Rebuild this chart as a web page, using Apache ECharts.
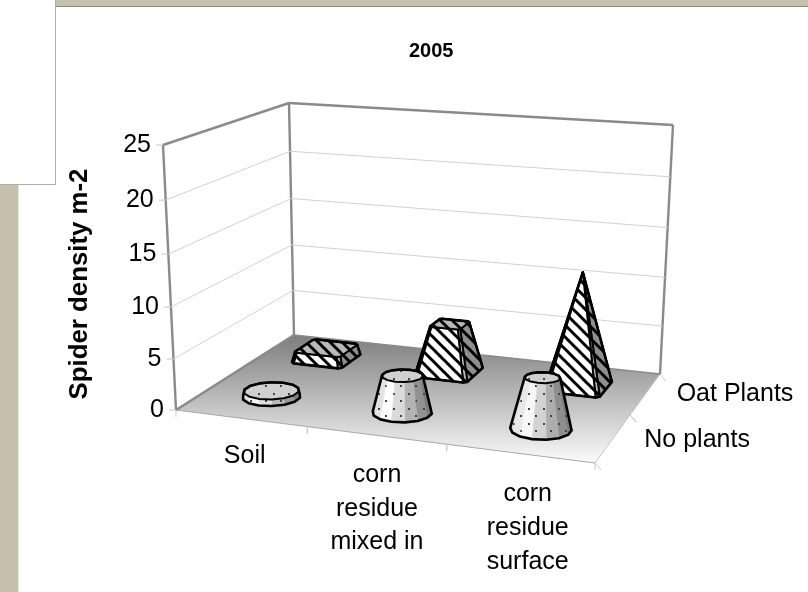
<!DOCTYPE html>
<html><head><meta charset="utf-8">
<style>html,body{margin:0;padding:0;background:#fff}#c{width:808px;height:592px}</style>
<script src="https://cdn.jsdelivr.net/npm/echarts@6/dist/echarts.min.js"></script>
</head><body><div id="c"></div>
<script>
const categories = ['Soil', 'corn\nresidue\nmixed in', 'corn\nresidue\nsurface'];
const depthLabels = ['No plants', 'Oat Plants'];
const noPlants = [0.6, 3.6, 4.9];
const oatPlants = [1.1, 5, 11.5];
const yTicks = [0, 5, 10, 15, 20, 25];
const yTitle = 'Spider density m-2';
const chartTitle = '2005';

const FONT = '"Liberation Sans", Arial, sans-serif';
const GRID = {left: 176, top: 145, width: 419, height: 265};
// floor and ceiling corners of the 3D box on screen: front-left, front-right, back-right, back-left
const FLOOR = [[176, 410], [595, 463], [660, 374], [294, 335]];
const CEIL = [[163, 145], [606, 174], [673, 125], [289, 103]];

function homography(q) {
  const [[x0, y0], [x1, y1], [x2, y2], [x3, y3]] = q;
  const dx1 = x1 - x2, dx2 = x3 - x2, sx = x0 - x1 + x2 - x3;
  const dy1 = y1 - y2, dy2 = y3 - y2, sy = y0 - y1 + y2 - y3;
  const d = dx1 * dy2 - dx2 * dy1;
  const g = (sx * dy2 - dx2 * sy) / d, h = (dx1 * sy - sx * dy1) / d;
  const a = x1 - x0 + g * x1, b = x3 - x0 + h * x3, c = x0;
  const e = y1 - y0 + g * y1, f = y3 - y0 + h * y3, i = y0;
  return (u, v) => {
    const w = g * u + h * v + 1;
    return [(a * u + b * v + c) / w, (e * u + f * v + i) / w];
  };
}
const H0 = homography(FLOOR), H1 = homography(CEIL);
function project(u, v, w) {
  const k = 0.048, t = w * (1 - k) / (1 - k * w);
  const p = H0(u, v), q = H1(u, v);
  return [p[0] + (q[0] - p[0]) * t, p[1] + (q[1] - p[1]) * t];
}

function tile(w, h, draw) {
  const c = document.createElement('canvas');
  c.width = w; c.height = h;
  draw(c.getContext('2d'));
  return {image: c, repeat: 'repeat'};
}
const hatch = tile(12, 12, g => {
  g.strokeStyle = '#000'; g.lineWidth = 3; g.lineCap = 'square';
  for (let o = -12; o <= 12; o += 12) { g.beginPath(); g.moveTo(o - 2, -2); g.lineTo(o + 14, 14); g.stroke(); }
});
const dots = tile(15, 15, g => {
  g.fillStyle = '#444';
  g.fillRect(3, 3, 2, 2); g.fillRect(10, 10, 2, 2);
});

function hull(pts) {
  const s = pts.slice().sort((a, b) => a[0] - b[0] || a[1] - b[1]);
  const cr = (o, a, b) => (a[0] - o[0]) * (b[1] - o[1]) - (a[1] - o[1]) * (b[0] - o[0]);
  const lo = [], up = [];
  for (const p of s) { while (lo.length > 1 && cr(lo[lo.length - 2], lo[lo.length - 1], p) <= 0) lo.pop(); lo.push(p); }
  for (const p of s.slice().reverse()) { while (up.length > 1 && cr(up[up.length - 2], up[up.length - 1], p) <= 0) up.pop(); up.push(p); }
  return lo.slice(0, -1).concat(up.slice(0, -1));
}
const poly = (points, style, z2) => ({type: 'polygon', shape: {points}, style, z2});
const allValues = noPlants.concat(oatPlants);
const peak = Math.max.apply(null, allValues);
const RU = 0.069, RV = 0.105;

function normalised(params, api, cat, val) {
  const cs = params.coordSys, p = api.coord([cat, val]);
  return [(p[0] - cs.x) / cs.width, (cs.y + cs.height - p[1]) / cs.height];
}

function coneItem(params, api) {
  const cat = api.value(0), val = api.value(1);
  const [u, w] = normalised(params, api, cat, val);
  const v = 0.25, n = 14, off = Math.PI / n;
  const ring = (scale, wl) => { const a = [];
    for (let i = 0; i < n; i++) { const th = off + i * 2 * Math.PI / n;
      a.push(project(u + RU * scale * Math.cos(th), v + RV * scale * Math.sin(th), wl)); }
    return a; };
  const base = ring(1, 0), top = ring(1 - val / peak, w);
  const xs = base.map(p => p[0]), minX = Math.min.apply(null, xs), maxX = Math.max.apply(null, xs);
  const order = [];
  for (let i = 0; i < n; i++) order.push(i);
  order.sort((a, b) => Math.sin(off + (b + .5) * 2 * Math.PI / n) - Math.sin(off + (a + .5) * 2 * Math.PI / n));
  const children = [];
  for (const i of order) {
    const j = (i + 1) % n, pts = [base[i], base[j], top[j], top[i]];
    const t = ((base[i][0] + base[j][0]) / 2 - minX) / (maxX - minX);
    const l = t < .22 ? 215 + 175 * t : 254 - 135 * (t - .22) / .78;
    const c = 'rgb(' + [l, l, l].map(Math.round).join(',') + ')';
    children.push(poly(pts, {fill: c, stroke: c, lineWidth: .6}));
    children.push(poly(pts, {fill: dots}));
  }
  children.push(poly(top, {fill: '#d0d0d0', stroke: '#000', lineWidth: 2}));
  children.push(poly(top, {fill: dots}));
  children.push(poly(hull(base.concat(top)), {fill: 'none', stroke: '#000', lineWidth: 2.6, lineJoin: 'round'}));
  return {type: 'group', children};
}

function pyramidItem(params, api) {
  const cat = api.value(0), val = api.value(1);
  const [u, w] = normalised(params, api, cat, val);
  const v = 0.75, c = 0.88;
  const shape = [[-c, -1], [c, -1], [1, -c], [1, c], [c, 1], [-c, 1], [-1, c], [-1, -c]];
  const fills = ['#ffffff', '#bdbdbd', '#8f8f8f', '#8f8f8f', '#8f8f8f', '#8f8f8f', '#d0d0d0', '#e0e0e0'];
  const ring = (scale, wl) => shape.map(s => project(u + RU * scale * s[0], v + RV * scale * s[1], wl));
  const base = ring(1, 0), top = ring(1 - val / peak, w);
  const children = [];
  [4, 5, 3, 6, 2, 7, 1, 0].forEach(i => {
    const j = (i + 1) % 8, pts = [base[i], base[j], top[j], top[i]];
    children.push(poly(pts, {fill: fills[i]}));
    children.push(poly(pts, {fill: hatch, stroke: '#000', lineWidth: 2, lineJoin: 'round'}));
  });
  if (val < peak) {
    children.push(poly(top, {fill: '#b8b8b8'}));
    children.push(poly(top, {fill: hatch, stroke: '#000', lineWidth: 2}));
  }
  children.push(poly(hull(base.concat(top)), {fill: 'none', stroke: '#000', lineWidth: 2.6, lineJoin: 'round'}));
  return {type: 'group', children};
}

const line = (a, b, stroke, lineWidth) => ({type: 'line', shape: {x1: a[0], y1: a[1], x2: b[0], y2: b[1]}, style: {stroke, lineWidth}});

function frameItem() {
  const WALL = '#8a8a8a';
  const F = new echarts.graphic.LinearGradient(0, 335, 0, 463, [
    {offset: 0, color: '#7d7d7d'}, {offset: 1, color: '#fbfbfb'}], true);
  const children = [
    poly(FLOOR, {fill: F}),
    line(FLOOR[0], FLOOR[1], '#a8a8a8', 1),
    line(FLOOR[1], FLOOR[2], '#c4c4c4', 1),
    line(FLOOR[0], CEIL[0], WALL, 2.4),
    line(CEIL[0], CEIL[3], WALL, 2.4),
    line(CEIL[3], CEIL[2], WALL, 2.4),
    line(CEIL[3], FLOOR[3], WALL, 2.4),
    line(CEIL[2], FLOOR[2], WALL, 2.4),
    line(FLOOR[0], FLOOR[3], WALL, 2.4),
    line(FLOOR[3], FLOOR[2], WALL, 1.6)
  ];
  return {type: 'group', children};
}

function tickItem(params, api) {
  const [, w] = normalised(params, api, 0, api.value(0));
  const a = project(0, 0, w), b = project(0, 1, w), c = project(1, 1, w);
  const kids = [line([a[0] - 7, a[1]], a, '#c8c8c8', 1)];
  if (w > 0 && w < 1) { kids.push(line(a, b, '#d2d2d2', 1), line(b, c, '#d2d2d2', 1)); }
  kids.push({type: 'text', style: {text: String(api.value(0)), x: a[0] - 12, y: a[1], align: 'right', verticalAlign: 'middle', fill: '#000', font: '25px ' + FONT}});
  return {type: 'group', children: kids};
}

function catItem(params, api) {
  const i = api.value(0);
  const [u] = normalised(params, api, i, 0);
  const a = project(u - 1 / 6, 0, 0), b = project(u + 1 / 6, 0, 0);
  const kids = [line(a, [a[0], a[1] + 7], '#c8c8c8', 1), line(b, [b[0], b[1] + 7], '#c8c8c8', 1)];
  const mid = project(u, 0, 0);
  const lines = categories[i].split('\n');
  const dx = [4, 1, 8][i], dy = [38, 40, 41][i];
  lines.forEach((t, k) => kids.push({type: 'text', style: {text: t, x: mid[0] + dx, y: mid[1] + dy + k * 33.6,
    align: 'center', verticalAlign: 'middle', fill: '#000', font: '25px ' + FONT}}));
  return {type: 'group', children: kids};
}

function depthItem(params, api) {
  const i = api.value(0);
  const p0 = project(1, i / 2, 0), p1 = project(1, (i + 1) / 2, 0), m = project(1, (i + .5) / 2, 0);
  return {type: 'group', children: [
    line(p0, [p0[0] + 6, p0[1] + 7], '#c8c8c8', 1), line(p1, [p1[0] + 6, p1[1] + 7], '#c8c8c8', 1),
    {type: 'text', style: {text: depthLabels[i], x: m[0] + 31, y: m[1] + (i ? 0 : 2), align: 'left', verticalAlign: 'middle', fill: '#000', font: '25px ' + FONT}}
  ]};
}

const chart = echarts.init(document.getElementById('c'), null, {renderer: 'canvas'});
chart.setOption({
  animation: false,
  backgroundColor: '#ffffff',
  title: {text: chartTitle, left: 404, top: 36, textStyle: {fontFamily: FONT, fontSize: 20, fontWeight: 'bold', color: '#000'}},
  grid: {left: GRID.left, top: GRID.top, width: GRID.width, height: GRID.height},
  xAxis: {type: 'category', data: categories, show: false},
  yAxis: {type: 'value', min: 0, max: 25, interval: 5, show: false},
  graphic: [
    {type: 'rect', z: -1, shape: {x: 0, y: 0, width: 808, height: 6}, style: {fill: '#c6c0ac'}},
    {type: 'rect', z: -1, shape: {x: 0, y: 6, width: 808, height: 1}, style: {fill: '#8c8872'}},
    {type: 'rect', z: -1, shape: {x: 0, y: 0, width: 18, height: 592}, style: {fill: '#c6c0ac'}},
    {type: 'rect', z: -1, shape: {x: 18, y: 0, width: 1, height: 592}, style: {fill: '#e4e2da'}},
    {type: 'rect', z: -1, shape: {x: -2, y: -2, width: 57.5, height: 186.5}, style: {fill: '#ffffff', stroke: '#adadad', lineWidth: 1}},
    {type: 'text', z: 5, rotation: Math.PI / 2, x: 80, y: 284, style: {text: yTitle, align: 'center', verticalAlign: 'middle', fill: '#000', font: 'bold 25.8px ' + FONT}}
  ],
  series: [
    {type: 'custom', name: 'frame', z: 1, clip: false, silent: true, renderItem: frameItem, data: [[0, 0]], encode: {x: 0, y: 1}},
    {type: 'custom', name: 'y ticks', z: 2, clip: false, silent: true, renderItem: tickItem, data: yTicks.map(t => [t]), encode: {y: 0}},
    {type: 'custom', name: 'categories', z: 2, clip: false, silent: true, renderItem: catItem, data: categories.map((c, i) => [i]), encode: {x: 0}},
    {type: 'custom', name: 'depth', z: 2, clip: false, silent: true, renderItem: depthItem, data: depthLabels.map((c, i) => [i]), encode: {x: 0}},
    {type: 'custom', name: 'Oat Plants', z: 3, clip: false, silent: true, renderItem: pyramidItem, data: oatPlants.map((v, i) => [i, v]), encode: {x: 0, y: 1}},
    {type: 'custom', name: 'No plants', z: 4, clip: false, silent: true, renderItem: coneItem, data: noPlants.map((v, i) => [i, v]), encode: {x: 0, y: 1}}
  ]
});
</script></body></html>
